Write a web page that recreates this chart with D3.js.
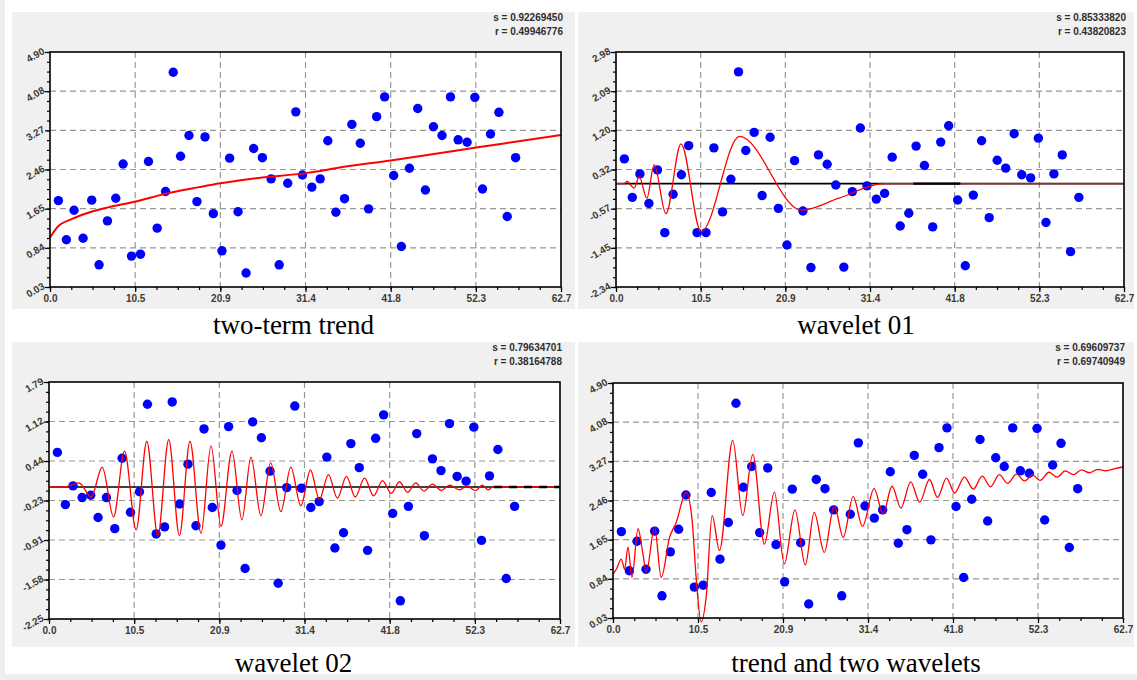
<!DOCTYPE html>
<meta charset="utf-8">
<style>

    body {
        margin: 0;
        background: #fff;
        font: 9px "Liberation Sans", Arial, sans-serif;
    }

    .frame { fill: #eceef2; }
    .panel-bg { fill: #f0f0f0; }
    .box { fill: #fff; }
    .outline { fill: none; stroke: #000; stroke-width: 1.6; }

    .grid line {
        stroke: #979797;
        stroke-width: 1.2;
        stroke-dasharray: 6, 4;
    }

    .axis path { display: none; }
    .axis line { stroke: #000; stroke-width: 1.2; }
    .axis text {
        fill: #3d3a32;
        font-weight: bold;
        font-size: 10px;
        font-family: "Liberation Sans", Arial, sans-serif;
    }

    .dot { fill: #0000ff; }
    .curve { fill: none; stroke: #ff0000; stroke-width: 1.3; }
    .curve.trend { stroke-width: 2; }
    .zero { stroke: #000; stroke-width: 1.6; }

    .stat {
        font-weight: bold;
        font-size: 10px;
        fill: #2e2e2e;
        text-anchor: end;
    }

    .title {
        font: 27px "Liberation Serif", "Times New Roman", serif;
        text-anchor: middle;
        fill: #000;
    }

</style>
<body>
<script src="https://d3js.org/d3.v7.min.js"></script>
<script>

    // x positions of the 57 observations (same in every panel)
    var xs = [1.03, 2.01, 2.95, 4.06, 5.12, 6.02, 7.05, 8.07, 8.97, 10.0,
        11.1, 12.08, 13.15, 14.18, 15.12, 16.02, 17.05, 18.03, 19.02, 20.04,
        21.1, 22.04, 23.07, 24.06, 24.99, 26.06, 27.13, 28.12, 29.17, 30.16,
        30.98, 32.13, 33.15, 34.09, 35.08, 36.14, 37.04, 38.07, 39.09, 40.08,
        41.06, 42.17, 43.11, 44.1, 45.12, 46.06, 47.05, 48.1, 49.14, 50.08,
        51.18, 52.13, 53.07, 54.05, 55.08, 56.1, 57.13];

    // observed values (two-term trend / trend and two wavelets)
    var yData = [1.82, 1.01, 1.62, 1.04, 1.83, 0.49, 1.40, 1.87, 2.58, 0.67,
        0.71, 2.63, 1.25, 2.01, 4.48, 2.74, 3.17, 1.80, 3.14, 1.55,
        0.78, 2.70, 1.59, 0.32, 2.90, 2.71, 2.27, 0.49, 2.18, 3.66,
        2.35, 2.10, 2.27, 3.06, 1.58, 1.86, 3.40, 3.01, 1.65, 3.56,
        3.97, 2.34, 0.87, 2.49, 3.73, 2.04, 3.35, 3.17, 3.97, 3.08,
        3.03, 3.96, 2.06, 3.20, 3.65, 1.49, 2.71];

    // residuals shown with wavelet 01
    var yWave1 = [0.56, -0.31, 0.22, -0.45, 0.31, -1.11, -0.24, 0.20, 0.86, -1.11,
        -1.11, 0.81, -0.64, 0.10, 2.53, 0.75, 1.16, -0.27, 1.05, -0.56,
        -1.39, 0.52, -0.62, -1.90, 0.65, 0.44, -0.03, -1.89, -0.18, 1.26,
        -0.05, -0.35, -0.22, 0.60, -0.96, -0.67, 0.85, 0.41, -0.98, 0.94,
        1.31, -0.37, -1.86, -0.26, 0.97, -0.77, 0.53, 0.35, 1.13, 0.20,
        0.13, 1.03, -0.88, 0.22, 0.65, -1.54, -0.31];

    // residuals shown with wavelet 02
    var yWave2 = [0.59, -0.30, 0.02, -0.18, -0.14, -0.52, -0.18, -0.71, 0.49, -0.43,
        -0.08, 1.41, -0.80, -0.68, 1.45, -0.29, 0.39, -0.66, 0.99, -0.35,
        -0.99, 1.03, -0.06, -1.39, 1.11, 0.84, 0.27, -1.64, -0.01, 1.38,
        -0.02, -0.35, -0.25, 0.51, -1.04, -0.78, 0.74, 0.33, -1.08, 0.83,
        1.23, -0.45, -1.94, -0.33, 0.91, -0.83, 0.48, 0.28, 1.08, 0.18,
        0.10, 1.02, -0.91, 0.19, 0.64, -1.56, -0.33];

    // fitted curves, read at their turning points
    var trendX = [0, 0.9, 2.7, 4.9, 7.1, 10.5, 14.1, 18.3, 20.9, 25.0, 31.4, 36.1, 41.8, 47.3, 52.3, 57.1, 62.7];
    var trendY = [1.05, 1.27, 1.44, 1.58, 1.68, 1.80, 1.96, 2.10, 2.18, 2.28, 2.39, 2.52, 2.65, 2.79, 2.92, 3.04, 3.18];

    var wav1X = [0, 1.0, 1.4, 1.8, 2.24, 2.86, 3.81, 4.71, 6.16, 8.02, 10.5, 15.25, 22.9, 27.5, 33.0, 62.7];
    var wav1Y = [0, 0, 0.05, -0.03, -0.10, 0.16, -0.33, 0.43, -0.68, 0.90, -1.09, 1.07, -0.60, -0.33, 0, 0];

    var wav2X = [0, 1.9, 3.67, 5.18, 6.53, 7.92, 9.27, 10.69, 12.0, 13.35, 14.69, 16.0, 17.3, 18.65,
        19.88, 21.1, 22.45, 23.67, 24.78, 26.0, 27.2, 28.45, 29.67, 30.9, 32.08, 33.17, 34.29, 35.38,
        36.5, 37.58, 38.71, 39.83, 40.92, 42.0, 43.0, 44.0, 45.0, 46.0, 47.06, 48.15, 49.15, 50.35,
        51.24, 52.36, 53.17, 53.9, 54.4, 62.7];
    var wav2Y = [0, 0, 0.07, -0.17, 0.34, -0.51, 0.61, -0.73, 0.78, -0.83, 0.81, -0.83, 0.78, -0.79,
        0.70, -0.67, 0.61, -0.56, 0.51, -0.49, 0.41, -0.42, 0.34, -0.32, 0.29, -0.21, 0.21, -0.19,
        0.18, -0.17, 0.15, -0.15, 0.11, -0.11, 0.09, -0.09, 0.07, -0.07, 0.05, -0.06, 0.03, -0.05,
        0.02, -0.06, 0.03, -0.05, 0, 0];

    var fitX = [0, 0.41, 1.02, 1.43, 1.84, 2.33, 3.07, 3.68, 4.09, 5.11, 5.93, 6.95, 7.77, 9.0, 9.73,
        10.22, 10.84, 11.45, 12.19, 13.09, 14.72, 15.95, 17.18, 18.61, 19.84, 21.06, 22.37, 23.64,
        24.74, 25.97, 27.2, 28.3, 29.53, 30.67, 32.1, 33.2, 34.3, 35.4, 36.6, 37.7, 38.9, 39.9, 41.0,
        42.0, 43.2, 44.3, 45.4, 46.4, 47.5, 48.5, 49.6, 50.6, 51.6, 52.5, 53.6, 54.6, 55.6, 56.6,
        57.6, 58.6, 59.6, 60.6, 61.6, 62.7];
    var fitY = [0.94, 1.04, 1.25, 1.04, 1.50, 0.87, 1.88, 1.36, 0.98, 1.91, 0.87, 1.70, 2.01, 2.64, 2.05,
        0.87, -0.05, 0.46, 2.15, 1.43, 3.71, 2.15, 3.42, 1.56, 2.64, 1.15, 2.27, 1.13,
        2.22, 1.39, 2.36, 1.70, 2.55, 1.93, 2.71, 2.19, 2.76, 2.31, 2.85, 2.43, 2.90, 2.53, 2.93,
        2.62, 2.95, 2.70, 2.97, 2.75, 3.00, 2.82, 3.01, 2.87, 2.99, 2.88, 3.05, 2.95, 3.08, 3.00,
        3.10, 3.04, 3.11, 3.08, 3.12, 3.16];

    // tick labels
    var xLabels = ["0.0", "10.5", "20.9", "31.4", "41.8", "52.3", "62.7"];
    var yLabelsData = ["0.03", "0.84", "1.65", "2.46", "3.27", "4.08", "4.90"];
    var yLabelsW1 = ["-2.34", "-1.45", "-0.57", "0.32", "1.20", "2.09", "2.98"];
    var yLabelsW2 = ["-2.25", "-1.58", "-0.91", "-0.23", "0.44", "1.12", "1.79"];

    var xMax = 62.7;

    var panels = [
        {bg: [12, 12, 563, 297], plot: [50, 52, 561, 287], yLabels: yLabelsData, points: yData,
            curve: [trendX, trendY], trend: true,
            stats: ["s = 0.92269450", "r = 0.49946776"], title: "two-term trend"},
        {bg: [578, 12, 556, 297], plot: [616, 52, 1124, 287], yLabels: yLabelsW1, points: yWave1,
            curve: [wav1X, wav1Y], zero: true, mark: [36.7, 42.5], markDash: null,
            stats: ["s = 0.85333820", "r = 0.43820823"], title: "wavelet 01"},
        {bg: [12, 342, 563, 305], plot: [49, 382, 560, 619], yLabels: yLabelsW2, points: yWave2,
            curve: [wav2X, wav2Y], zero: true, mark: [54.6, 62.7], markDash: "8,7",
            stats: ["s = 0.79634701", "r = 0.38164788"], title: "wavelet 02"},
        {bg: [578, 342, 556, 305], plot: [613, 383, 1123, 618], yLabels: yLabelsData, points: yData,
            curve: [fitX, fitY],
            stats: ["s = 0.69609737", "r = 0.69740949"], title: "trend and two wavelets"}
    ];

    var svg = d3.select("body").append("svg")
        .attr("width", 1137)
        .attr("height", 680);

    svg.append("rect").attr("class", "frame").attr("x", 0).attr("y", 0).attr("width", 5).attr("height", 680);
    svg.append("rect").attr("class", "frame").attr("x", 0).attr("y", 674).attr("width", 1137).attr("height", 6);

    panels.forEach(drawPanel);

    function drawPanel(p) {
        var g = svg.append("g");
        var L = p.plot[0], T = p.plot[1], R = p.plot[2], B = p.plot[3];
        var yLo = +p.yLabels[0], yHi = +p.yLabels[p.yLabels.length - 1];

        var x = d3.scaleLinear().domain([0, xMax]).range([L, R]);
        var y = d3.scaleLinear().domain([yLo, yHi]).range([B, T]);

        var xMajor = d3.range(7).map(function(i) { return xMax * i / 6; });
        var xMinor = d3.range(25).map(function(i) { return xMax * i / 24; });
        var yMajor = d3.range(7).map(function(i) { return yLo + (yHi - yLo) * i / 6; });
        var yMinor = d3.range(25).map(function(i) { return yLo + (yHi - yLo) * i / 24; });

        g.append("rect").attr("class", "panel-bg")
            .attr("x", p.bg[0]).attr("y", p.bg[1])
            .attr("width", p.bg[2]).attr("height", p.bg[3]);

        g.append("text").attr("class", "stat")
            .attr("x", R + 2).attr("y", p.bg[1] + 9)
            .text(p.stats[0]);
        g.append("text").attr("class", "stat")
            .attr("x", R + 2).attr("y", p.bg[1] + 23)
            .text(p.stats[1]);

        g.append("rect").attr("class", "box")
            .attr("x", L).attr("y", T).attr("width", R - L).attr("height", B - T);

        var grid = g.append("g").attr("class", "grid");
        grid.selectAll("line.v").data(xMajor.slice(1, -1)).enter().append("line")
            .attr("x1", x).attr("x2", x).attr("y1", T).attr("y2", B);
        grid.selectAll("line.h").data(yMajor.slice(1, -1)).enter().append("line")
            .attr("y1", y).attr("y2", y).attr("x1", L).attr("x2", R);

        // minor + major ticks
        g.append("g").attr("class", "x axis")
            .attr("transform", "translate(0," + B + ")")
            .call(d3.axisBottom(x).tickValues(xMinor).tickSize(3).tickFormat(""));
        g.append("g").attr("class", "x axis")
            .attr("transform", "translate(0," + B + ")")
            .call(d3.axisBottom(x).tickValues(xMajor).tickSize(5)
                .tickFormat(function(d, i) { return xLabels[i]; }));

        g.append("g").attr("class", "y axis")
            .attr("transform", "translate(" + L + ",0)")
            .call(d3.axisLeft(y).tickValues(yMinor).tickSize(3).tickFormat(""));
        var ya = g.append("g").attr("class", "y axis")
            .attr("transform", "translate(" + L + ",0)")
            .call(d3.axisLeft(y).tickValues(yMajor).tickSize(5)
                .tickFormat(function(d, i) { return p.yLabels[i]; }));
        ya.selectAll("text")
            .attr("x", 0)
            .attr("dy", "0.3em")
            .attr("transform", "translate(-6,-2) rotate(-30)");

        if (p.zero) {
            g.append("line").attr("class", "zero")
                .attr("x1", L).attr("x2", R).attr("y1", y(0)).attr("y2", y(0));
        }

        g.selectAll("circle.dot").data(p.points).enter().append("circle")
            .attr("class", "dot")
            .attr("cx", function(d, i) { return x(xs[i]); })
            .attr("cy", function(d) { return y(d); })
            .attr("r", 4.7);

        var line = d3.line()
            .x(function(d) { return x(d[0]); })
            .y(function(d) { return y(d[1]); })
            .curve(d3.curveMonotoneX);

        g.append("path")
            .attr("class", p.trend ? "curve trend" : "curve")
            .attr("d", line(d3.zip(p.curve[0], p.curve[1])));

        if (p.mark) {
            g.append("line")
                .attr("x1", x(p.mark[0])).attr("x2", x(p.mark[1]))
                .attr("y1", y(0)).attr("y2", y(0))
                .style("stroke", "#000")
                .style("stroke-width", 2.4)
                .style("stroke-dasharray", p.markDash);
        }

        g.append("rect").attr("class", "outline")
            .attr("x", L).attr("y", T).attr("width", R - L).attr("height", B - T);

        g.append("text").attr("class", "title")
            .attr("x", p.bg[0] + p.bg[2] / 2)
            .attr("y", p.bg[1] + p.bg[3] + 25)
            .text(p.title);
    }

</script>
